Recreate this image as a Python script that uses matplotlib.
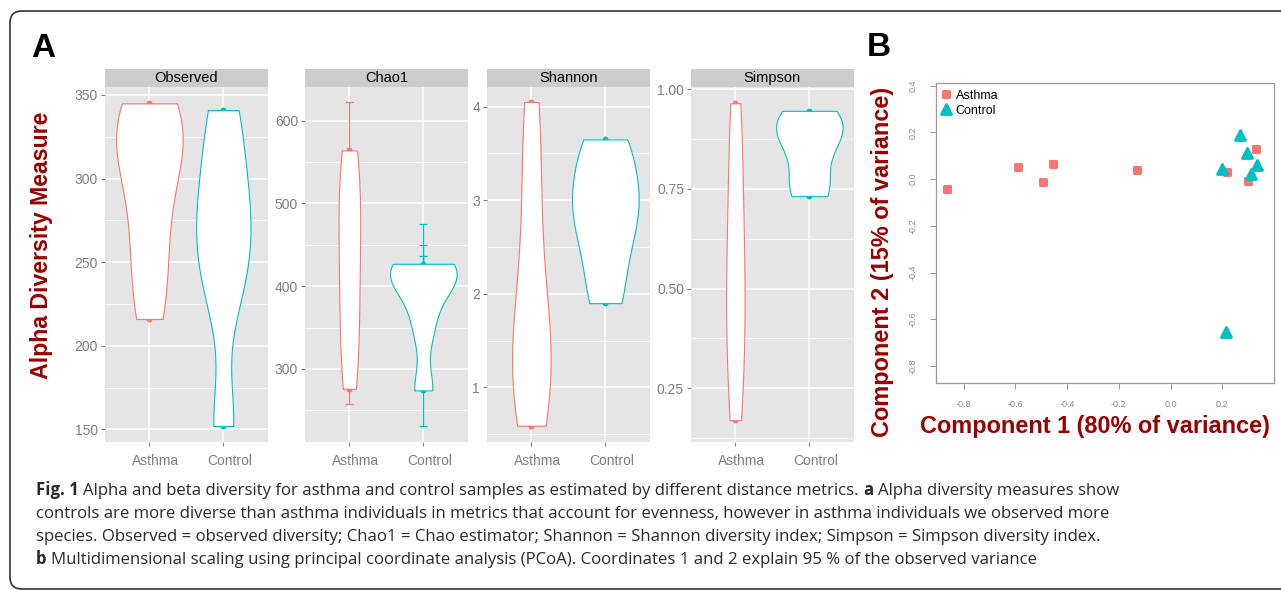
import numpy as np
import matplotlib
matplotlib.use("Agg")
import matplotlib.pyplot as plt
from matplotlib.patches import FancyBboxPatch, Rectangle
from matplotlib.markers import MarkerStyle
import matplotlib.transforms as mtransforms

W, H = 1281, 590

# ---- panel A: alpha diversity per sample ----
groups = ["Asthma", "Control"]
observed_asthma = [216, 244, 270, 300, 316, 328, 338, 345]
observed_control = [152, 232, 258, 278, 306, 341]
chao1_asthma = [276, 318, 365, 410, 452, 495, 530, 564]
chao1_asthma_se = [19, 14, 20, 22, 25, 22, 18, 58]
chao1_control = [274, 350, 398, 414, 421, 427]
chao1_control_se = [43, 14, 18, 23, 29, 48]
shannon_asthma = [0.59, 0.92, 1.2, 1.45, 1.8, 2.5, 3.3, 4.05]
shannon_control = [1.9, 2.4, 2.82, 2.98, 3.35, 3.65]
simpson_asthma = [0.17, 0.28, 0.4, 0.48, 0.58, 0.7, 0.84, 0.965]
simpson_control = [0.732, 0.77, 0.86, 0.895, 0.92, 0.946]

# ---- panel B: PCoA coordinates ----
pcoa_asthma_x = [-0.863, -0.589, -0.493, -0.455, -0.129, 0.218, 0.298, 0.330]
pcoa_asthma_y = [-0.042, 0.052, -0.014, 0.064, 0.038, 0.029, -0.008, 0.129]
pcoa_control_x = [0.269, 0.294, 0.200, 0.336, 0.309, 0.215]
pcoa_control_y = [0.189, 0.111, 0.043, 0.061, 0.021, -0.653]

RED = "#F8766D"
TEAL = "#00BFC4"
DARKRED = "#990000"
FONT = "Liberation Sans"

plt.rcParams["font.family"] = [FONT, "DejaVu Sans"]


def px_axes(fig, x0, y0, x1, y1):
    return fig.add_axes([x0 / W, 1 - y1 / H, (x1 - x0) / W, (y1 - y0) / H])


def kde(values):
    # gaussian kernel, R's bw.nrd0, trimmed to data range (ggplot geom_violin)
    v = np.asarray(values, float)
    n = len(v)
    q75, q25 = np.percentile(v, [75, 25])
    bw = 0.9 * min(v.std(ddof=1), (q75 - q25) / 1.34) * n ** -0.2
    grid = np.linspace(v.min(), v.max(), 512)
    z = (grid[:, None] - v[None, :]) / bw
    dens = np.exp(-0.5 * z ** 2).sum(axis=1) / (n * bw * np.sqrt(2 * np.pi))
    return grid, dens


fig = plt.figure(figsize=(W / 100, H / 100), dpi=100)

bg = fig.add_axes([0, 0, 1, 1], zorder=-5)
bg.set_xlim(0, W)
bg.set_ylim(H, 0)
bg.axis("off")
bg.add_patch(FancyBboxPatch((10, 11), 1300, 578, boxstyle="round,pad=0,rounding_size=12",
                            fc="white", ec="#333333", lw=1.2))

panels = [
    ("Observed", observed_asthma, observed_control, None, None, (105, 267.7),
     (142.6, 354.6), [150, 200, 250, 300, 350], [175, 225, 275, 325], "{:.0f}"),
    ("Chao1", chao1_asthma, chao1_control, chao1_asthma_se, chao1_control_se, (305, 467.7),
     (212, 640.3), [300, 400, 500, 600], [250, 350, 450, 550], "{:.0f}"),
    ("Shannon", shannon_asthma, shannon_control, None, None, (487, 649.7),
     (0.419, 4.207), [1, 2, 3, 4], [0.5, 1.5, 2.5, 3.5], "{:.0f}"),
    ("Simpson", simpson_asthma, simpson_control, None, None, (691, 853.7),
     (0.116, 1.005), [0.25, 0.5, 0.75, 1.0], [0.125, 0.375, 0.625, 0.875], "{:.2f}"),
]

for title, va, vc, sea, sec, (x0, x1), ylim, ticks, minor, fmt in panels:
    ax = px_axes(fig, x0, 87.3, x1, 441.7)
    ax.set_facecolor("#E5E5E5")
    for s in ax.spines.values():
        s.set_visible(False)
    ax.set_xlim(0.4, 2.6)
    ax.set_ylim(*ylim)
    ax.set_xticks([1, 2])
    ax.set_xticklabels(groups)
    ax.set_yticks(ticks)
    ax.set_yticklabels([fmt.format(t) for t in ticks])
    ax.set_yticks(minor, minor=True)
    ax.grid(which="major", color="white", lw=1.1)
    ax.grid(which="minor", axis="y", color="white", lw=0.5)
    ax.set_axisbelow(True)
    ax.tick_params(which="major", colors="#7F7F7F", length=3, width=0.8,
                   labelsize=10, labelcolor="#7F7F7F")
    ax.tick_params(axis="y", pad=2)
    ax.tick_params(axis="x", pad=6)
    ax.tick_params(which="minor", length=0)
    shift = mtransforms.ScaledTranslation(6 / 100, 0, fig.dpi_scale_trans)
    for lab in ax.get_xticklabels():
        lab.set_transform(lab.get_transform() + shift)

    series = [(va, sea, RED, 1), (vc, sec, TEAL, 2)]
    dens_all = [kde(v) for v, _, _, _ in series]
    dmax = max(d.max() for _, d in dens_all)
    for (vals, se, col, pos), (grid, dens) in zip(series, dens_all):
        if se is not None:
            ax.errorbar(np.full(len(vals), pos), vals, yerr=se, fmt="none", ecolor=col,
                        elinewidth=0.9, capsize=2.6, capthick=0.9, zorder=2)
        ax.plot(np.full(len(vals), pos), vals, "o", color=col, ms=3.2, zorder=2)
        hw = 0.45 * dens / dmax
        ax.fill_betweenx(grid, pos - hw, pos + hw, facecolor="white", edgecolor=col,
                         lw=0.8, zorder=3)

    sh = 18.3 / 354.4
    ax.add_patch(Rectangle((0, 1), 1, sh, transform=ax.transAxes, clip_on=False,
                           fc="#CCCCCC", ec="none"))
    ax.text(0.5, 1 + sh / 2, title, transform=ax.transAxes, ha="center", va="center",
            fontsize=10.5, color="black")

bg.text(31, 57, "A", fontsize=24, weight="bold", ha="left", va="baseline")
bg.text(42, 245, "Alpha Diversity Measure", fontsize=16.7, weight="bold", color=DARKRED,
        rotation=90, ha="center", va="center")

# ---- panel B ----
bx = px_axes(fig, 935.7, 83.3, 1274.3, 383.3)
bx.set_xlim(-0.908, 0.401)
bx.set_ylim(-0.874, 0.41)
for s in bx.spines.values():
    s.set_color("#9A9A9A")
    s.set_linewidth(0.9)
xt = [-0.8, -0.6, -0.4, -0.2, 0.0, 0.2]
yt = [-0.8, -0.6, -0.4, -0.2, 0.0, 0.2, 0.4]
bx.set_xticks(xt)
bx.set_xticklabels(["%.1f" % t for t in xt])
bx.set_yticks(yt)
bx.set_yticklabels(["%.1f" % t for t in yt], rotation=90, va="center")
bx.tick_params(colors="#9A9A9A", labelcolor="#8A8A8A", labelsize=6.5, length=4, width=0.7)
bx.tick_params(axis="x", pad=8)
bx.tick_params(axis="y", pad=9)

sq = MarkerStyle("s", joinstyle="round")
tri = MarkerStyle("^", joinstyle="round")
bx.plot(pcoa_asthma_x, pcoa_asthma_y, linestyle="none", marker=sq, ms=5.0, mew=2.2,
        color=RED, mec=RED, label="Asthma")
bx.plot(pcoa_control_x, pcoa_control_y, linestyle="none", marker=tri, ms=6.5, mew=2.0,
        color=TEAL, mec=TEAL, label="Control")
bx.legend(loc="upper left", frameon=False, fontsize=9, handlelength=0.6, handletextpad=0.5,
          labelspacing=0.25, borderaxespad=0.3, borderpad=0.2)

bg.text(1095, 426, "Component 1 (80% of variance)", fontsize=16.9, weight="bold",
        color=DARKRED, ha="center", va="center")
bg.text(883, 262, "Component 2 (15% of variance)", fontsize=16.9, weight="bold",
        color=DARKRED, rotation=90, ha="center", va="center")
bg.text(867, 56, "B", fontsize=24, weight="bold", ha="left", va="baseline")

# ---- caption ----
cap_lines = [
    [("Fig. 1", "bold"),
     ("Alpha and beta diversity for asthma and control samples as estimated by different distance metrics.", "normal"),
     ("a", "bold"), ("Alpha diversity measures show", "normal")],
    [("controls are more diverse than asthma individuals in metrics that account for evenness, however in asthma individuals we observed more", "normal")],
    [("species. Observed = observed diversity; Chao1 = Chao estimator; Shannon = Shannon diversity index; Simpson = Simpson diversity index.", "normal")],
    [("b", "bold"),
     ("Multidimensional scaling using principal coordinate analysis (PCoA). Coordinates 1 and 2 explain 95 % of the observed variance", "normal")],
]
cap_font = ["Open Sans", "DejaVu Sans"]
renderer = fig.canvas.get_renderer()


def put_line(pieces, y, size, keep=True):
    def width(s, wt):
        t = bg.text(0, 0, s, fontsize=size, weight=wt, family=cap_font)
        w = t.get_window_extent(renderer).width
        t.remove()
        return w
    space = width("x x", "normal") - width("xx", "normal")
    x = 36
    for s, wt in pieces:
        w = width(s, wt)
        if keep:
            bg.text(x, y, s, fontsize=size, weight=wt, family=cap_font, color="#2B2B2B",
                    ha="left", va="baseline")
        x += w + space
    return x - space


probe = put_line(cap_lines[0], 0, 12, keep=False) - 36
cap_size = 12 * (1117 - 36) / probe
for i, line in enumerate(cap_lines):
    put_line(line, 495 + 23 * i, cap_size)

fig.savefig("out.png", dpi=100)
